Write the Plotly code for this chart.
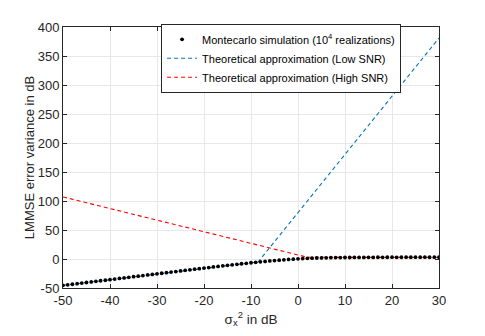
import plotly.graph_objects as go

# Montecarlo simulation, one point per dB
snr_db = list(range(-50, 31))
mc_err_db = [
    -45.4, -44.5, -43.5, -42.5, -41.5, -40.5, -39.6, -38.5, -37.5, -36.6,
    -35.6, -34.6, -33.5, -32.6, -31.6, -30.5, -29.6, -28.6, -27.5, -26.6,
    -25.6, -24.6, -23.6, -22.6, -21.6, -20.6, -19.6, -18.6, -17.6, -16.6,
    -15.7, -14.7, -13.7, -12.8, -11.8, -10.9, -10.0, -9.1, -8.2, -7.4,
    -6.5, -5.7, -4.9, -4.1, -3.4, -2.7, -2.0, -1.4, -0.8, -0.3,
    0.3, 0.7, 1.1, 1.4, 1.7, 1.9, 2.1, 2.2, 2.4, 2.5,
    2.6, 2.6, 2.7, 2.8, 2.8, 2.9, 2.8, 3.0, 2.9, 3.0,
    3.1, 2.9, 3.0, 3.1, 3.0, 3.1, 3.0, 3.1, 3.0, 3.1, 3.0,
]

# theoretical approximations
low_x = [-50, -40, -30, -20, -10, -8.5, 0, 10, 20, 30]
low_y = [-45.4, -35.6, -25.6, -15.7, -6.5, -5.2, 80, 181, 281, 381]
high_x = [-50, -40, -30, -20, -10, 0, 2, 10, 20, 30]
high_y = [107, 87, 67, 47, 27, 7, 3, 2.8, 3.0, 3.0]

x_ticks = list(range(-50, 31, 10))
y_ticks = list(range(-50, 401, 50))

AXIS_COL = "#262626"
GRID_COL = "#e8e8e8"
FONT = "Liberation Sans, Arial, sans-serif"

fig = go.Figure()
fig.add_trace(go.Scatter(x=low_x, y=low_y, mode="lines", legendrank=2,
                         name="Theoretical approximation (Low SNR)",
                         line=dict(color="#0072BD", width=1.1, dash="4px,3px")))
fig.add_trace(go.Scatter(x=high_x, y=high_y, mode="lines", legendrank=3,
                         name="Theoretical approximation (High SNR)",
                         line=dict(color="#ff0000", width=1.1, dash="4px,3px")))
fig.add_trace(go.Scatter(x=snr_db, y=mc_err_db, mode="markers", legendrank=1,
                         name="Montecarlo simulation (10<sup>4</sup> realizations)",
                         marker=dict(color="black", size=3.8)))

axis_common = dict(showline=True, linecolor=AXIS_COL, linewidth=1, mirror="ticks",
                   ticks="inside", ticklen=4, tickcolor=AXIS_COL,
                   showgrid=True, gridcolor=GRID_COL, gridwidth=1, zeroline=False,
                   tickfont=dict(size=13, color=AXIS_COL, family=FONT))

fig.update_xaxes(range=[-50, 30], tickvals=x_ticks,
                 ticktext=[str(v) for v in x_ticks],
                 title=dict(text="σ<sub>x</sub><sup>2</sup> in dB", standoff=7,
                            font=dict(size=13.5, color=AXIS_COL, family=FONT)),
                 **axis_common)
fig.update_yaxes(range=[-50, 400], tickvals=y_ticks,
                 ticktext=[str(v) for v in y_ticks],
                 title=dict(text="LMMSE error variance in dB", standoff=0,
                            font=dict(size=13, color=AXIS_COL, family=FONT)),
                 **axis_common)

# the page body adds an 8px offset, so the figure is sized to the visible area
fig.update_layout(
    width=477, height=328,
    margin=dict(l=55, r=46, t=17, b=46),
    paper_bgcolor="white", plot_bgcolor="white",
    font=dict(family=FONT, color=AXIS_COL),
    legend=dict(x=0.58, y=0.88, xanchor="center", yanchor="middle",
                bgcolor="white", bordercolor=AXIS_COL, borderwidth=1,
                font=dict(size=11, color="black", family=FONT),
                itemwidth=30, tracegroupgap=0),
    showlegend=True,
)

fig.write_html("out.html")
